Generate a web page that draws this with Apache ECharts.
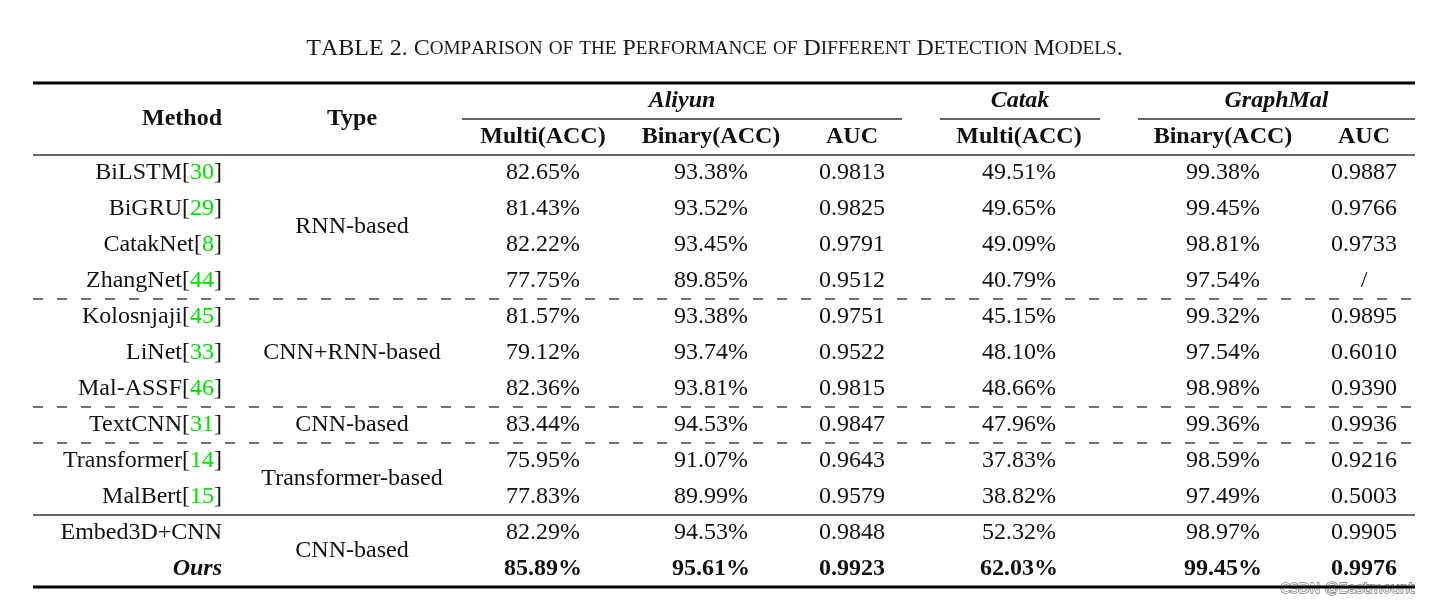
<!DOCTYPE html>
<html><head><meta charset="utf-8">
<script src="https://cdn.jsdelivr.net/npm/echarts@6/dist/echarts.min.js"></script>
<style>html,body{margin:0;padding:0;background:#fff}#c{width:1429px;height:606px}</style>
</head><body><div id="c"></div>
<script>
// ---------------- DATA ----------------
const titleText = 'TABLE 2. Comparison of the Performance of Different Detection Models.';
const methods = ['BiLSTM','BiGRU','CatakNet','ZhangNet','Kolosnjaji','LiNet','Mal-ASSF','TextCNN','Transformer','MalBert','Embed3D+CNN','Ours'];
const refs = ['30','29','8','44','45','33','46','31','14','15','',''];
const typeGroups = [['RNN-based',0,3],['CNN+RNN-based',4,6],['CNN-based',7,7],['Transformer-based',8,9],['CNN-based',10,11]];
const datasets = ['Aliyun','Catak','GraphMal'];
const metricHeaders = ['Multi(ACC)','Binary(ACC)','AUC','Multi(ACC)','Binary(ACC)','AUC'];
const aliyunMulti  = [82.65,81.43,82.22,77.75,81.57,79.12,82.36,83.44,75.95,77.83,82.29,85.89];
const aliyunBinary = [93.38,93.52,93.45,89.85,93.38,93.74,93.81,94.53,91.07,89.99,94.53,95.61];
const aliyunAUC    = [0.9813,0.9825,0.9791,0.9512,0.9751,0.9522,0.9815,0.9847,0.9643,0.9579,0.9848,0.9923];
const catakMulti   = [49.51,49.65,49.09,40.79,45.15,48.10,48.66,47.96,37.83,38.82,52.32,62.03];
const graphBinary  = [99.38,99.45,98.81,97.54,99.32,97.54,98.98,99.36,98.59,97.49,98.97,99.45];
const graphAUC     = [0.9887,0.9766,0.9733,null,0.9895,0.6010,0.9390,0.9936,0.9216,0.5003,0.9905,0.9976];
const highlightRow = 11; // "Ours" row (bold)
const watermark = 'CSDN @Eastmount';

// ---------------- LAYOUT ----------------
const serif = '"Liberation Serif","Times New Roman",serif';
const ink = '#111';
const green = '#00e000';
const FS = 24;
const methodX = 189;            // right edge of method column (axis units = px from table left)
const typeX = 319;
const metricX = [510,678,819,986,1190,1331];
const groupSpans = [[429,869],[907,1067],[1105,1382]];
const tableW = 1382;
// rules: boundary index in row categories (0 = top of header)
const rules = [
  {at:0, from:0, to:tableW, kind:'thick'},
  {at:1, from:groupSpans[0][0], to:groupSpans[0][1], kind:'thin'},
  {at:1, from:groupSpans[1][0], to:groupSpans[1][1], kind:'thin'},
  {at:1, from:groupSpans[2][0], to:groupSpans[2][1], kind:'thin'},
  {at:2, from:0, to:tableW, kind:'thin'},
  {at:6, from:0, to:tableW, kind:'dash'},
  {at:9, from:0, to:tableW, kind:'dash'},
  {at:10, from:0, to:tableW, kind:'dash'},
  {at:12, from:0, to:tableW, kind:'thin'},
  {at:14, from:0, to:tableW, kind:'thick'}
];
const ruleStyles = {
  thick:{stroke:'#000', lineWidth:3},
  thin:{stroke:'#333', lineWidth:1.4},
  dash:{stroke:'#444', lineWidth:1.4, lineDash:[10,14]}
};

const rowCats = ['h1','h2'].concat(methods);
const columns = [aliyunMulti, aliyunBinary, aliyunAUC, catakMulti, graphBinary, graphAUC];
const isPct = [true,true,false,true,true,false];
function fmt(v, pct){ if (v == null) return '/'; return pct ? v.toFixed(2)+'%' : v.toFixed(4); }
function font(w, s){ return (s||'normal')+' '+(w||'normal')+' '+FS+'px '+serif; }
function part(w, s, c){ return {fontSize:FS, fontFamily:serif, fontWeight:w||'normal', fontStyle:s||'normal', fill:c||ink, color:c||ink}; }
function txt(str, x, y, align, w, s, rich){
  const st = {text:str, x:x, y:y, align:align, verticalAlign:'middle', textAlign:align, textVerticalAlign:'middle', font:font(w,s), fill:ink};
  if (rich) st.rich = rich;
  return {type:'text', style:st};
}
function band(api){ return api.size([0,1])[1]; }
function rowY(api, idx){
  if (idx < rowCats.length) return api.coord([0, idx])[1];
  return api.coord([0, rowCats.length-1])[1] + band(api);
}

// title rich (small caps)
function smallCaps(str){
  let out = '';
  for (const ch of str) {
    if (ch >= 'a' && ch <= 'z') out += '{s|' + ch.toUpperCase() + '}';
    else if (ch === ' ') out += '{b| }';
    else out += '{b|' + ch + '}';
  }
  return out;
}

const chart = echarts.init(document.getElementById('c'), null, {renderer:'canvas'});
chart.setOption({
  backgroundColor:'#fff',
  animation:false,
  title:{
    text: smallCaps(titleText), left:'center', top:30,
    textStyle:{ fontWeight:'normal', rich:{
      b:{fontSize:24, fontFamily:serif, fontWeight:'normal', color:'#1a1a1a', lineHeight:28},
      s:{fontSize:19.2, fontFamily:serif, fontWeight:'normal', color:'#1a1a1a', lineHeight:28}
    }}
  },
  grid:{left:33, right:14, top:83, bottom:19},
  xAxis:{type:'value', min:0, max:tableW, show:false},
  yAxis:{type:'category', data:rowCats, inverse:true, show:false},
  graphic:[{
    type:'text', right:14, top:582,
    style:{text:watermark, font:'14px "DejaVu Sans",sans-serif', fill:'#ffffff', stroke:'#6e6e6e', lineWidth:1.3}
  }],
  series:[
    { // rules
      type:'custom', clip:false, silent:true,
      data: rules.map(r => [r.from, r.at, r.to]),
      renderItem:function(params, api){
        const r = rules[params.dataIndex];
        const at = api.value(1);
        const half = band(api)/2;
        const y = at < rowCats.length ? api.coord([0, at])[1] - half : rowY(api, at - 1) + half;
        const x0 = api.coord([api.value(0), 0])[0];
        const x1 = api.coord([api.value(2), 0])[0];
        const st = Object.assign({}, ruleStyles[r.kind]);
        return {type:'line', shape:{x1:x0, y1:y, x2:x1, y2:y}, style:st};
      }
    },
    { // header
      type:'custom', clip:false, silent:true,
      data:[[0,0]],
      renderItem:function(params, api){
        const y0 = api.coord([0,0])[1], y1 = api.coord([0,1])[1];
        const kids = [];
        kids.push(txt('Method', api.coord([methodX,0])[0], (y0+y1)/2, 'right', 'bold'));
        kids.push(txt('Type', api.coord([typeX,0])[0], (y0+y1)/2, 'center', 'bold'));
        datasets.forEach((d,k) => {
          const cx = api.coord([(groupSpans[k][0]+groupSpans[k][1])/2, 0])[0];
          kids.push(txt(d, cx, y0, 'center', 'bold', 'italic'));
        });
        metricHeaders.forEach((m,c) => {
          kids.push(txt(m, api.coord([metricX[c],1])[0], y1, 'center', 'bold'));
        });
        return {type:'group', children:kids};
      }
    },
    { // type groups
      type:'custom', clip:false, silent:true,
      data: typeGroups.map(g => [g[1]+2, g[2]+2]),
      renderItem:function(params, api){
        const g = typeGroups[params.dataIndex];
        const ya = api.coord([0, api.value(0)])[1], yb = api.coord([0, api.value(1)])[1];
        return txt(g[0], api.coord([typeX,0])[0], (ya+yb)/2, 'center');
      }
    },
    { // data rows
      type:'custom', clip:false, silent:true,
      data: methods.map((m,i) => [0, i+2]),
      renderItem:function(params, api){
        const i = params.dataIndex;
        const y = api.coord([0, api.value(1)])[1];
        const hl = i === highlightRow;
        const kids = [];
        const mx = api.coord([methodX,0])[0];
        if (refs[i]) {
          kids.push(txt('{n|'+methods[i]+'}{n|[}{g|'+refs[i]+'}{n|]}', mx, y, 'right', null, null,
            {n:part(), g:part(null,null,green)}));
        } else {
          kids.push(txt(methods[i], mx, y, 'right', hl?'bold':null, hl?'italic':null));
        }
        columns.forEach((col,c) => {
          kids.push(txt(fmt(col[i], isPct[c]), api.coord([metricX[c],0])[0], y, 'center', hl?'bold':null));
        });
        return {type:'group', children:kids};
      }
    }
  ]
});
</script>
</body></html>
